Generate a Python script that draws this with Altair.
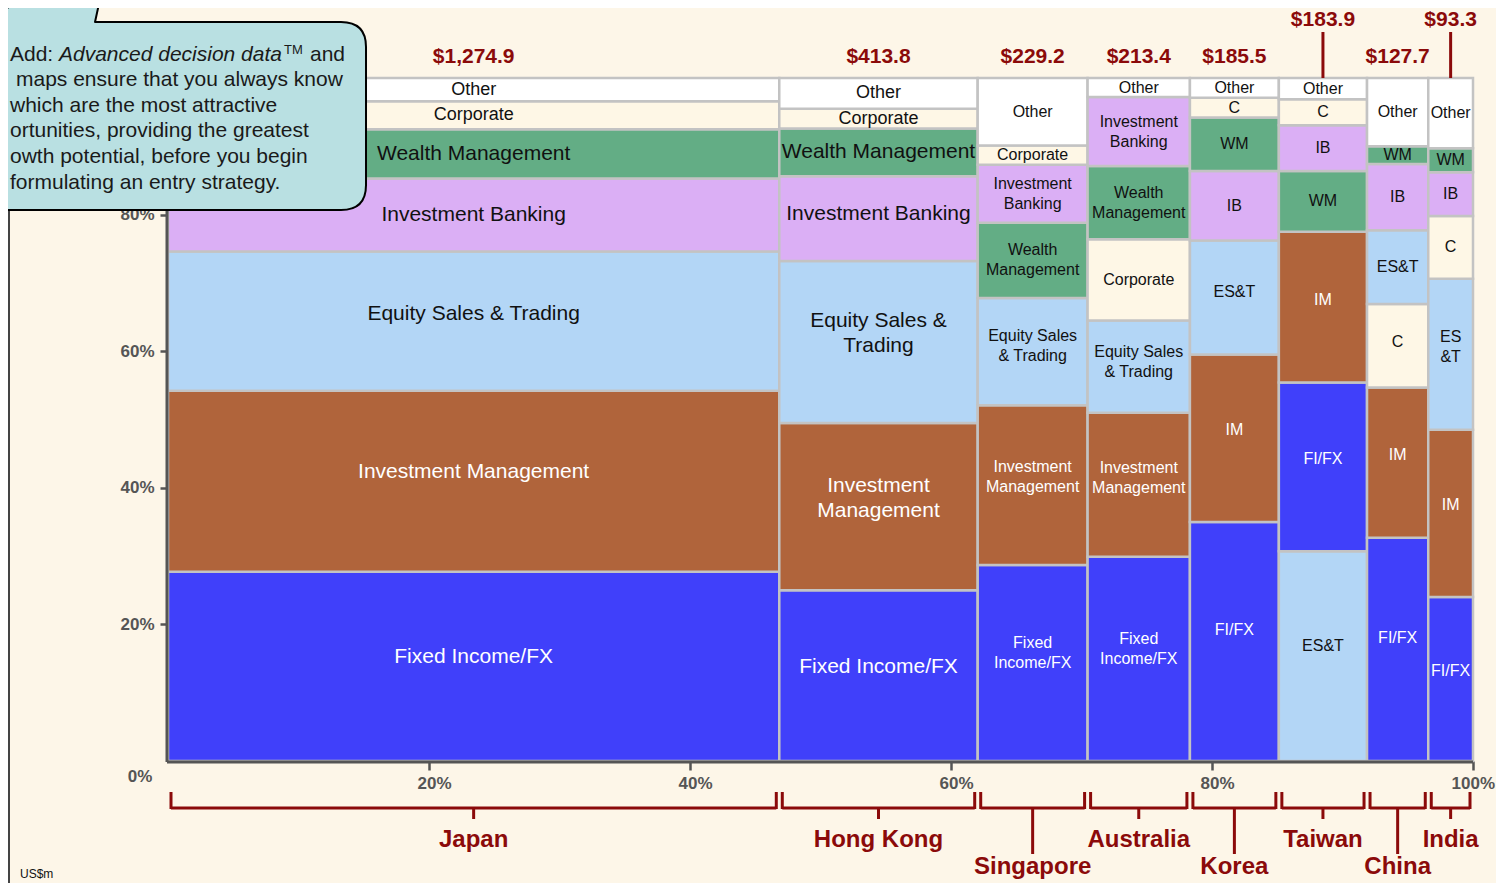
import altair as alt
import pandas as pd

# ---------------- data ----------------
countries = ["Japan", "Hong Kong", "Singapore", "Australia", "Korea", "Taiwan", "China", "India"]
totals = [1274.9, 413.8, 229.2, 213.4, 185.5, 183.9, 127.7, 93.3]  # US$m

seg_codes = ["FI", "IM", "EST", "IB", "WM", "C", "O"]
seg_colors = ["#4040fa", "#b0643b", "#b3d6f6", "#dbaff5", "#63ad85", "#fef7e6", "#ffffff"]

# segment order within each country, bottom -> top
segment_order = {
    "Japan":     ["FI", "IM", "EST", "IB", "WM", "C", "O"],
    "Hong Kong": ["FI", "IM", "EST", "IB", "WM", "C", "O"],
    "Singapore": ["FI", "IM", "EST", "WM", "IB", "C", "O"],
    "Australia": ["FI", "IM", "EST", "C", "WM", "IB", "O"],
    "Korea":     ["FI", "IM", "EST", "IB", "WM", "C", "O"],
    "Taiwan":    ["EST", "FI", "IM", "WM", "IB", "C", "O"],
    "China":     ["FI", "IM", "C", "EST", "IB", "WM", "O"],
    "India":     ["FI", "IM", "EST", "C", "IB", "WM", "O"],
}
# share of each country's revenue (%), bottom -> top
segment_share = {
    "Japan":     [27.7, 26.5, 20.4, 10.7, 7.2, 4.1, 3.4],
    "Hong Kong": [25.0, 24.5, 23.7, 12.4, 7.0, 2.9, 4.5],
    "Singapore": [28.7, 23.4, 15.7, 11.0, 8.5, 2.8, 9.9],
    "Australia": [29.9, 21.1, 13.5, 11.9, 10.7, 10.1, 2.8],
    "Korea":     [35.0, 24.5, 16.7, 10.2, 7.8, 2.9, 2.9],
    "Taiwan":    [30.7, 24.7, 22.1, 8.9, 6.7, 3.8, 3.1],
    "China":     [32.7, 22.0, 12.2, 10.8, 9.7, 2.6, 10.0],
    "India":     [24.0, 24.5, 22.1, 9.2, 6.4, 3.5, 10.3],
}
segment_text = {
    "Japan":     ["Fixed Income/FX", "Investment Management", "Equity Sales & Trading",
                  "Investment Banking", "Wealth Management", "Corporate", "Other"],
    "Hong Kong": ["Fixed Income/FX", "Investment\nManagement", "Equity Sales &\nTrading",
                  "Investment Banking", "Wealth Management", "Corporate", "Other"],
    "Singapore": ["Fixed\nIncome/FX", "Investment\nManagement", "Equity Sales\n& Trading",
                  "Wealth\nManagement", "Investment\nBanking", "Corporate", "Other"],
    "Australia": ["Fixed\nIncome/FX", "Investment\nManagement", "Equity Sales\n& Trading",
                  "Corporate", "Wealth\nManagement", "Investment\nBanking", "Other"],
    "Korea":     ["FI/FX", "IM", "ES&T", "IB", "WM", "C", "Other"],
    "Taiwan":    ["ES&T", "FI/FX", "IM", "WM", "IB", "C", "Other"],
    "China":     ["FI/FX", "IM", "C", "ES&T", "IB", "WM", "Other"],
    "India":     ["FI/FX", "IM", "ES\n&T", "C", "IB", "WM", "Other"],
}
raised_value = ["Taiwan", "India"]
low_name = ["Singapore", "Korea", "China"]

# ---------------- style ----------------
FONT = "Liberation Sans, Arial, Helvetica, sans-serif"
DARK_RED = "#8b0a0a"
GREY = "#555555"
BG = "#fdf6e8"
TEAL = "#b9e0e2"
W, H = 1305, 683
LH_BIG, LH_SMALL = 25, 20

grand = sum(totals)
cell_rows, country_rows = [], []
acc = 0.0
for c, t in zip(countries, totals):
    x0 = acc / grand
    acc += t
    x1 = acc / grand
    shares = segment_share[c]
    s = sum(shares)
    cy = 0.0
    big = c in ("Japan", "Hong Kong")
    lh = LH_BIG if big else LH_SMALL
    for code, v, txt in zip(segment_order[c], shares, segment_text[c]):
        y0 = cy / s
        cy += v
        y1 = cy / s
        fs = (18 if code in ("C", "O") else 21) if big else 16
        nlines = txt.count("\n") + 1
        frac = 0.5 if (y1 - y0) < 0.12 else 0.45
        ym = y1 - frac * (y1 - y0) + (nlines - 1) * lh / 2 / H
        cell_rows.append(dict(country=c, seg=code, x0=x0, x1=x1, y0=y0, y1=y1,
                              xm=(x0 + x1) / 2, ym=ym,
                              label=txt, fsize=fs, big=big,
                              tcolor="#ffffff" if code in ("FI", "IM") else "#111111"))
    country_rows.append(dict(country=c, x0=x0, x1=x1, xc=(x0 + x1) / 2,
                             value=f"${t:,.1f}", raised=c in raised_value, low=c in low_name))

cdf = pd.DataFrame(cell_rows)
kdf = pd.DataFrame(country_rows)
one = pd.DataFrame({"k": [0]})

xs = alt.Scale(domain=[0, 1], nice=False, zero=False)
ys = alt.Scale(domain=[0, 1], nice=False, zero=False)
x_axis = alt.Axis(values=[0.2, 0.4, 0.6, 0.8, 1.0], format=".0%", domain=False, grid=False,
                  title=None, tickSize=9, tickWidth=2.5, tickColor=GREY, labelFont=FONT,
                  labelFontSize=17, labelFontWeight="bold", labelColor=GREY, labelPadding=5,
                  labelOffset=5, labelFlush=False,
                  labelExpr="datum.value >= 1 ? '' : datum.label")
y_axis = alt.Axis(values=[0.2, 0.4, 0.6, 0.8], format=".0%", domain=False, grid=False,
                  title=None, tickSize=8, tickWidth=2.5, tickColor=GREY, labelFont=FONT,
                  labelFontSize=17, labelFontWeight="bold", labelColor=GREY, labelPadding=6)


def X(f):
    return alt.X(f"{f}:Q", scale=xs, axis=x_axis)


def Y(f):
    return alt.Y(f"{f}:Q", scale=ys, axis=y_axis)


cells = alt.Chart(cdf).mark_rect(stroke="#c3c3c3", strokeWidth=2.5).encode(
    x=X("x0"), x2="x1", y=Y("y0"), y2="y1",
    color=alt.Color("seg:N", scale=alt.Scale(domain=seg_codes, range=seg_colors), legend=None),
)

frame_y = alt.Chart(one).mark_rule(color=GREY, strokeWidth=3).encode(
    x=alt.value(-1), y=alt.value(0), y2=alt.value(H + 1))
frame_x = alt.Chart(one).mark_rule(color=GREY, strokeWidth=3).encode(
    x=alt.value(-1), x2=alt.value(W), y=alt.value(H + 1))


def cell_text(flt, lh):
    return alt.Chart(cdf).transform_filter(flt).mark_text(
        font=FONT, lineBreak="\n", lineHeight=lh, align="center", baseline="middle"
    ).encode(x=X("xm"), y=Y("ym"), text="label:N",
             size=alt.Size("fsize:Q", scale=None),
             color=alt.Color("tcolor:N", scale=None))


text_big = cell_text("datum.big", LH_BIG)
text_small = cell_text("!datum.big", LH_SMALL)

# brackets under the axis
br_h = alt.Chart(kdf).mark_rule(color=DARK_RED, strokeWidth=3, xOffset=3, x2Offset=-3).encode(
    x=X("x0"), x2="x1", y=alt.value(730))
br_l = alt.Chart(kdf).mark_rule(color=DARK_RED, strokeWidth=3, xOffset=3).encode(
    x=X("x0"), y=alt.value(714), y2=alt.value(731))
br_r = alt.Chart(kdf).mark_rule(color=DARK_RED, strokeWidth=3, xOffset=-3).encode(
    x=X("x1"), y=alt.value(714), y2=alt.value(731))
br_c_short = alt.Chart(kdf).transform_filter("!datum.low").mark_rule(
    color=DARK_RED, strokeWidth=3).encode(x=X("xc"), y=alt.value(730), y2=alt.value(741))
br_c_long = alt.Chart(kdf).transform_filter("datum.low").mark_rule(
    color=DARK_RED, strokeWidth=3).encode(x=X("xc"), y=alt.value(730), y2=alt.value(776))

name_style = dict(font=FONT, fontSize=24, fontWeight="bold", color=DARK_RED,
                  align="center", baseline="middle")
names_hi = alt.Chart(kdf).transform_filter("!datum.low").mark_text(**name_style).encode(
    x=X("xc"), y=alt.value(762), text="country:N")
names_lo = alt.Chart(kdf).transform_filter("datum.low").mark_text(**name_style).encode(
    x=X("xc"), y=alt.value(789), text="country:N")

val_style = dict(font=FONT, fontSize=21, fontWeight="bold", color=DARK_RED,
                 align="center", baseline="middle")
vals_lo = alt.Chart(kdf).transform_filter("!datum.raised").mark_text(**val_style).encode(
    x=X("xc"), y=alt.value(-21), text="value:N")
vals_hi = alt.Chart(kdf).transform_filter("datum.raised").mark_text(**val_style).encode(
    x=X("xc"), y=alt.value(-58), text="value:N")
vals_lead = alt.Chart(kdf).transform_filter("datum.raised").mark_rule(
    color=DARK_RED, strokeWidth=3).encode(x=X("xc"), y=alt.value(-46), y2=alt.value(0))

corner_style = dict(font=FONT, fontSize=17, fontWeight="bold", color=GREY, baseline="middle")
zero_lbl = alt.Chart(one).mark_text(align="center", **corner_style).encode(
    x=alt.value(-28), y=alt.value(H + 16), text=alt.value("0%"))
full_lbl = alt.Chart(one).mark_text(align="right", **corner_style).encode(
    x=alt.value(W + 22), y=alt.value(H + 23), text=alt.value("100%"))

# callout bubble (page coords converted to a unit path)
OX, OY = 168, 78
CX, CY, HALF = 150, 100, 260


def u(ax, ay):
    return f"{(ax - CX) / HALF:.4f},{(ay - CY) / HALF:.4f}"


bubble_path = (f"M{u(95, 22)} L{u(341, 22)} Q{u(366, 22)} {u(366, 47)} L{u(366, 185)} "
               f"Q{u(366, 210)} {u(341, 210)} L{u(-60, 210)} L{u(-60, 22)} L{u(-14, 22)} "
               f"L{u(35, -10)} L{u(102, -10)} Z")
bubble = alt.Chart(one).mark_point(shape=bubble_path, filled=True, fill=TEAL, stroke="#000000",
                                   strokeWidth=2, opacity=1, size=(2 * HALF) ** 2,
                                   strokeJoin="round").encode(
    x=alt.value(CX - OX), y=alt.value(CY - OY))


def note(txt, ax, ay, size=21, align="left", style="normal"):
    return alt.Chart(one).mark_text(font=FONT, fontSize=size, fontStyle=style, color="#1a1a1a",
                                    align=align, baseline="middle").encode(
        x=alt.value(ax - OX), y=alt.value(ay - OY), text=alt.value(txt))


notes = [
    note("Add:", 10, 55),
    note("Advanced decision data", 59, 55, style="italic"),
    note("TM", 284, 50, size=13),
    note("and", 310, 55),
    note("maps ensure that you always know", 16, 80),
    note("which are the most attractive", 10, 106),
    note("ortunities, providing the greatest", 10, 131),
    note("owth potential, before you begin", 10, 157),
    note("formulating an entry strategy.", 10, 183),
]

usm = alt.Chart(one).mark_text(font=FONT, fontSize=12, color="#111111", align="left",
                               baseline="middle").encode(
    x=alt.value(20 - OX), y=alt.value(874 - OY), text=alt.value("US$m"))
left_line = alt.Chart(one).mark_rule(color="#444444", strokeWidth=2).encode(
    x=alt.value(9 - OX), y=alt.value(210 - OY), y2=alt.value(806))

chart = alt.layer(
    cells, frame_x, frame_y, text_big, text_small,
    br_h, br_l, br_r, br_c_short, br_c_long, names_hi, names_lo,
    vals_lo, vals_hi, vals_lead, zero_lbl, full_lbl, left_line, bubble, *notes, usm,
).properties(
    width=W, height=H, autosize="none",
    padding={"left": 160, "top": 70, "right": 23, "bottom": 122},
    background=BG,
).configure_view(stroke=None)

chart.save("out.html", embed_options={"renderer": "svg", "actions": False})
